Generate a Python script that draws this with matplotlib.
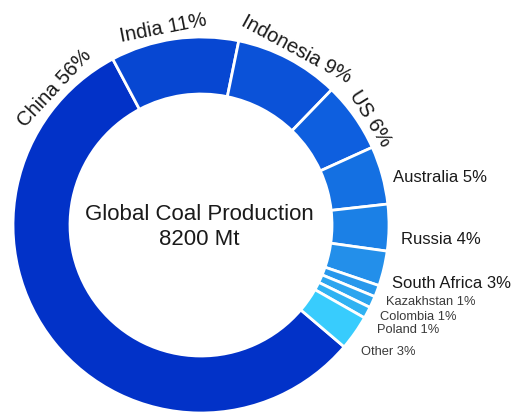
import numpy as np
import matplotlib
matplotlib.use("Agg")
import matplotlib.pyplot as plt

plt.rcParams["font.family"] = ["Liberation Sans", "DejaVu Sans"]

# ---- Data ----
COUNTRIES = ["China", "India", "Indonesia", "US", "Australia", "Russia",
             "South Africa", "Kazakhstan", "Colombia", "Poland", "Other"]
SHARES = [56, 11, 9, 6, 5, 4, 3, 1, 1, 1, 3]   # % of global production
TOTAL_MT = 8200

COLORS = ["#0232c8", "#0747d2", "#0b52d8", "#0e5fdf", "#1470e2", "#1b80e6",
          "#238fea", "#2898ec", "#2ca5ef", "#30b2f2", "#38ccfd"]

# ---- Layout (pixel units, y measured upward) ----
W, H = 511, 415
CX, CY = 201, 190
R_OUT, RING = 188, 57
START = 118 + 360 * SHARES[0] / 100   # China ends where India starts (118 deg)

# curved labels sit on a circle just outside the ring, turned to its tangent
ARC_LABELS = {"China": 137, "India": 101, "Indonesia": 61.5, "US": 32}
ARC_R = 200
ARC_SIZE = 14.5

# flat labels on the right: (left x, centre y from top, font size)
FLAT_LABELS = {
    "Australia": (393, 178, 12),
    "Russia": (401, 239, 12),
    "South Africa": (392, 283, 12),
    "Kazakhstan": (386, 302, 9.3),
    "Colombia": (380, 317, 9.3),
    "Poland": (377, 330, 9.3),
    "Other": (361, 352, 9.3),
}

fig = plt.figure(figsize=(W / 100, H / 100), dpi=100)
ax = fig.add_axes([0, 0, 1, 1])

ax.pie(SHARES, colors=COLORS, startangle=START, counterclock=False,
       center=(CX, CY), radius=R_OUT,
       wedgeprops=dict(width=RING, edgecolor="white", linewidth=2))
ax.set_xlim(0, W)
ax.set_ylim(0, H)
ax.set_aspect("equal")
ax.axis("off")

for name, share in zip(COUNTRIES, SHARES):
    label = f"{name} {share}%"
    if name in ARC_LABELS:
        a = ARC_LABELS[name]
        x = CX + ARC_R * np.cos(np.radians(a))
        y = CY + ARC_R * np.sin(np.radians(a))
        ax.text(x, y, label, rotation=a - 90, rotation_mode="anchor",
                ha="center", va="center", fontsize=ARC_SIZE, color="#1a1a1a")
    else:
        x, ytop, fs = FLAT_LABELS[name]
        col = "#1a1a1a" if fs > 10 else "#3a3a3a"
        ax.text(x, H - ytop, label, ha="left", va="center", fontsize=fs,
                color=col)

ax.text(CX - 2, H - 214, "Global Coal Production", ha="center", va="center",
        fontsize=16, color="#1a1a1a")
ax.text(CX - 2, H - 239, f"{TOTAL_MT} Mt", ha="center", va="center",
        fontsize=16, color="#1a1a1a")

fig.savefig("out.png", dpi=100)
